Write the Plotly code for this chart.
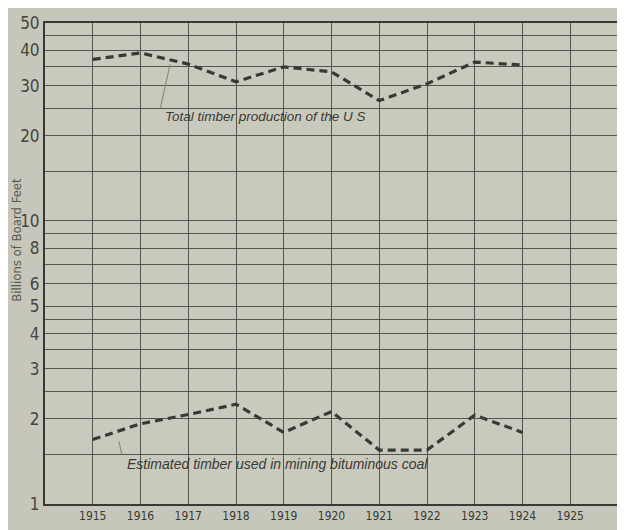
import math
import plotly.graph_objects as go

years = [1915, 1916, 1917, 1918, 1919, 1920, 1921, 1922, 1923, 1924]
total_timber = [37.2, 39.2, 35.8, 31.0, 35.0, 33.6, 26.6, 30.5, 36.4, 35.5]
mining_timber = [1.69, 1.92, 2.07, 2.25, 1.79, 2.12, 1.55, 1.55, 2.06, 1.79]

x_ticks = [1915, 1916, 1917, 1918, 1919, 1920, 1921, 1922, 1923, 1924, 1925]
y_grid = [1, 1.5, 2, 2.5, 3, 3.5, 4, 4.5, 5, 6, 7, 8, 9, 10, 15, 20, 25, 30, 35, 40, 45, 50]
y_labels = {1: "1", 2: "2", 3: "3", 4: "4", 5: "5", 6: "6", 8: "8", 10: "10",
            20: "20", 30: "30", 40: "40", 50: "50"}

ink = "#3a3a34"
grid = "#55554e"
font_family = "Liberation Sans Narrow, DejaVu Sans Condensed, Liberation Sans, sans-serif"
italic_family = "Liberation Sans, DejaVu Sans, sans-serif"

fig = go.Figure()
fig.add_trace(go.Scatter(x=years, y=total_timber, mode="lines",
                         line=dict(color=ink, width=3.2, dash="8px,5px"),
                         showlegend=False, hoverinfo="skip"))
fig.add_trace(go.Scatter(x=years, y=mining_timber, mode="lines",
                         line=dict(color=ink, width=3.2, dash="8px,5px"),
                         showlegend=False, hoverinfo="skip"))

# the page body adds an 8px margin on top/left, so the figure is sized to compensate
fig.update_layout(
    width=617, height=522,
    margin=dict(l=37, r=5, t=11, b=26),
    paper_bgcolor="#c6c7ba",
    plot_bgcolor="#c9cabd",
    font=dict(family=font_family, color=ink),
    xaxis=dict(range=[1914, 1926], tickvals=x_ticks, ticktext=[str(v) for v in x_ticks],
               showgrid=True, gridcolor=grid, gridwidth=1.3,
               showline=True, linecolor=ink, linewidth=2, mirror=True,
               ticks="", tickfont=dict(size=12, family=font_family, color=ink),
               zeroline=False, fixedrange=True),
    yaxis=dict(type="log", range=[0, math.log10(50)],
               tickvals=y_grid, ticktext=[y_labels.get(v, "") for v in y_grid],
               showgrid=True, gridcolor=grid, gridwidth=1.3,
               showline=True, linecolor=ink, linewidth=2, mirror=True,
               ticks="", tickfont=dict(size=17, family=font_family, color="#45453f"),
               zeroline=False, fixedrange=True),
)

fig.add_annotation(text="Billions of Board Feet", xref="paper", yref="paper",
                   x=-0.05, y=0.55, textangle=-90, showarrow=False,
                   xanchor="center", yanchor="middle",
                   font=dict(size=13, family=font_family, color="#5a5a52"))

fig.add_annotation(text="Total timber production of the U S", xref="x", yref="y",
                   x=1918.62, y=math.log10(23.4), showarrow=False,
                   font=dict(size=13.5, family=italic_family, style="italic", color=ink))
fig.add_annotation(text="Estimated timber used in mining bituminous coal", xref="x", yref="y",
                   x=1918.86, y=math.log10(1.39), showarrow=False,
                   font=dict(size=14, family=italic_family, style="italic", color=ink))

# leader lines
fig.add_annotation(text="", xref="x", yref="y", x=1916.62, y=math.log10(35.8),
                   ax=-10, ay=45, showarrow=True, arrowhead=0, arrowwidth=1.2,
                   arrowcolor="#8d8d84")
fig.add_annotation(text="", xref="x", yref="y", x=1915.55, y=math.log10(1.66),
                   ax=3, ay=14, showarrow=True, arrowhead=0, arrowwidth=1.2,
                   arrowcolor="#8d8d84")

fig.write_html("out.html")
